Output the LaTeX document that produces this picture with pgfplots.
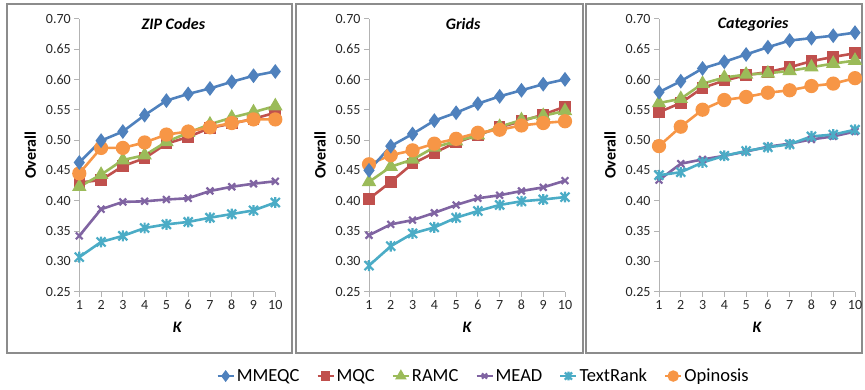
\documentclass[border=0pt]{standalone}
\usepackage{fontspec}
\setmainfont{Carlito}
\usepackage{pgfplots}
\usepackage{pgfplotstable}
\pgfplotsset{compat=1.18}
\definecolor{cBlue}{HTML}{4F81BD}
\definecolor{cRed}{HTML}{C0504D}
\definecolor{cGreen}{HTML}{9BBB59}
\definecolor{cPurple}{HTML}{8064A2}
\definecolor{cAqua}{HTML}{4BACC6}
\definecolor{cOrange}{HTML}{F79646}
\definecolor{axgray}{HTML}{B3B3B3}
\definecolor{frgray}{HTML}{8C8C8C}
\pgfdeclareplotmark{xstar}{%
  \pgfpathmoveto{\pgfpoint{-\pgfplotmarksize}{-\pgfplotmarksize}}%
  \pgfpathlineto{\pgfpoint{\pgfplotmarksize}{\pgfplotmarksize}}%
  \pgfpathmoveto{\pgfpoint{-\pgfplotmarksize}{\pgfplotmarksize}}%
  \pgfpathlineto{\pgfpoint{\pgfplotmarksize}{-\pgfplotmarksize}}%
  \pgfpathmoveto{\pgfpoint{0pt}{-1.2\pgfplotmarksize}}%
  \pgfpathlineto{\pgfpoint{0pt}{1.2\pgfplotmarksize}}%
  \pgfusepathqstroke}

\pgfplotstableread{
K MMEQC MQC RAMC MEAD TextRank Opinosis
1 0.463 0.430 0.423 0.342 0.307 0.445
2 0.499 0.434 0.443 0.386 0.332 0.487
3 0.514 0.457 0.467 0.398 0.342 0.487
4 0.541 0.470 0.475 0.399 0.355 0.496
5 0.565 0.494 0.497 0.402 0.361 0.509
6 0.576 0.505 0.512 0.404 0.365 0.514
7 0.585 0.520 0.526 0.416 0.372 0.521
8 0.596 0.527 0.537 0.423 0.378 0.528
9 0.606 0.535 0.546 0.428 0.384 0.534
10 0.613 0.545 0.556 0.432 0.397 0.534
}\zip
\pgfplotstableread{
K MMEQC MQC RAMC MEAD TextRank Opinosis
1 0.450 0.403 0.431 0.343 0.293 0.460
2 0.490 0.431 0.456 0.361 0.325 0.475
3 0.510 0.461 0.468 0.368 0.346 0.483
4 0.532 0.479 0.488 0.380 0.356 0.494
5 0.545 0.496 0.498 0.393 0.372 0.502
6 0.560 0.508 0.508 0.404 0.383 0.512
7 0.572 0.521 0.522 0.409 0.393 0.517
8 0.582 0.531 0.533 0.416 0.399 0.524
9 0.592 0.542 0.540 0.422 0.402 0.528
10 0.600 0.555 0.548 0.433 0.406 0.531
}\grids
\pgfplotstableread{
K MMEQC MQC RAMC MEAD TextRank Opinosis
1 0.579 0.546 0.561 0.434 0.442 0.490
2 0.597 0.561 0.568 0.461 0.447 0.522
3 0.618 0.586 0.593 0.468 0.463 0.550
4 0.629 0.598 0.603 0.474 0.474 0.566
5 0.641 0.607 0.608 0.481 0.482 0.571
6 0.653 0.612 0.610 0.489 0.488 0.578
7 0.664 0.620 0.614 0.494 0.493 0.582
8 0.668 0.630 0.620 0.501 0.506 0.589
9 0.672 0.637 0.626 0.506 0.509 0.593
10 0.677 0.643 0.631 0.514 0.517 0.602
}\cats

\pgfplotsset{
  panel/.style={
    scale only axis, width=196pt, height=273pt,
    anchor=south west,
    xmin=1, xmax=10, ymin=0.25, ymax=0.70,
    xtick={1,2,3,4,5,6,7,8,9,10},
    ytick={0.25,0.3,0.35,0.4,0.45,0.5,0.55,0.6,0.65,0.7},
    /pgf/number format/assume math mode=true,
    yticklabel style={/pgf/number format/fixed, /pgf/number format/fixed zerofill, /pgf/number format/precision=2},
    axis x line*=left, axis y line*=left,
    axis line style={draw=axgray, line width=1pt, -},
    tick style={draw=axgray, line width=0.8pt},
    tick align=outside, major tick length=5pt,
    xtick pos=left, ytick pos=left,
    ticklabel style={font=\fontsize{14}{15}\selectfont, text=black!85},
    xlabel={\bfseries\itshape K},
    ylabel={\bfseries Overall},
    label style={font=\fontsize{16}{17}\selectfont},
    xlabel style={at={(axis description cs:0.5,-0.129)}, anchor=center},
    ylabel style={at={(axis description cs:-0.25,0.5)}, anchor=center},
    clip=false,
    every axis plot/.append style={line width=2.6pt},
    legend image code/.code={\draw[mark repeat=2,mark phase=2] plot coordinates {(0pt,0pt)(8pt,0pt)(16pt,0pt)};},
  },
  sMMEQC/.style={color=cBlue, mark=diamond*, mark size=5.3pt, mark options={solid}},
  sMQC/.style={color=cRed, mark=square*, mark size=4.5pt},
  sRAMC/.style={color=cGreen, mark=triangle*, mark size=5.8pt},
  sMEAD/.style={color=cPurple, mark=x, mark size=4.8pt, mark options={line width=2.2pt}},
  sTR/.style={color=cAqua, mark=xstar, mark size=4.5pt, mark options={line width=2.2pt}},
  sOP/.style={color=cOrange, mark=*, mark size=5.8pt},
}

\begin{document}
\begin{tikzpicture}
\useasboundingbox (0pt,0pt) rectangle (865pt,389pt);
\draw[frgray, line width=1.1pt] (7pt,36pt) rectangle (292pt,385pt);
\draw[frgray, line width=1.1pt] (296pt,36pt) rectangle (583pt,385pt);
\draw[frgray, line width=1.1pt] (586pt,36pt) rectangle (862pt,385pt);

\begin{axis}[panel, at={(79.3pt,97.3pt)}]
\addplot[sMEAD] table[x=K,y=MEAD]{\zip};
\addplot[sTR] table[x=K,y=TextRank]{\zip};
\addplot[sMQC] table[x=K,y=MQC]{\zip};
\addplot[sRAMC] table[x=K,y=RAMC]{\zip};
\addplot[sOP] table[x=K,y=Opinosis]{\zip};
\addplot[sMMEQC] table[x=K,y=MMEQC]{\zip};
\node[font=\fontsize{16}{17}\selectfont\bfseries\itshape, anchor=center] at (axis description cs:0.48,0.98) {ZIP Codes};
\end{axis}

\begin{axis}[panel, at={(369pt,97.3pt)},
  legend style={draw=none, fill=none, at={(axis description cs:0.585,-0.309)}, anchor=center,
    font=\fontsize{18.5}{20}\selectfont, legend columns=6,
    /tikz/every even column/.append style={column sep=15pt},
    legend cell align=left, inner xsep=0pt},
  legend entries={MMEQC,MQC,RAMC,MEAD,TextRank,Opinosis}]
\addlegendimage{sMMEQC, line width=2.2pt, mark size=4.2pt}
\addlegendimage{sMQC, line width=2.2pt, mark size=3.6pt}
\addlegendimage{sRAMC, line width=2.2pt, mark size=4.6pt}
\addlegendimage{sMEAD, line width=2.2pt, mark size=3.6pt}
\addlegendimage{sTR, line width=2.2pt, mark size=3.6pt}
\addlegendimage{sOP, line width=2.2pt, mark size=4.6pt}
\addplot[sMEAD, forget plot] table[x=K,y=MEAD]{\grids};
\addplot[sTR, forget plot] table[x=K,y=TextRank]{\grids};
\addplot[sMQC, forget plot] table[x=K,y=MQC]{\grids};
\addplot[sRAMC, forget plot] table[x=K,y=RAMC]{\grids};
\addplot[sOP, forget plot] table[x=K,y=Opinosis]{\grids};
\addplot[sMMEQC, forget plot] table[x=K,y=MMEQC]{\grids};
\node[font=\fontsize{16}{17}\selectfont\bfseries\itshape, anchor=center] at (axis description cs:0.48,0.98) {Grids};
\end{axis}

\begin{axis}[panel, at={(659pt,97.3pt)}]
\addplot[sMEAD] table[x=K,y=MEAD]{\cats};
\addplot[sTR] table[x=K,y=TextRank]{\cats};
\addplot[sMQC] table[x=K,y=MQC]{\cats};
\addplot[sRAMC] table[x=K,y=RAMC]{\cats};
\addplot[sOP] table[x=K,y=Opinosis]{\cats};
\addplot[sMMEQC] table[x=K,y=MMEQC]{\cats};
\node[font=\fontsize{16}{17}\selectfont\bfseries\itshape, anchor=center] at (axis description cs:0.48,0.98) {Categories};
\end{axis}
\end{tikzpicture}
\end{document}
